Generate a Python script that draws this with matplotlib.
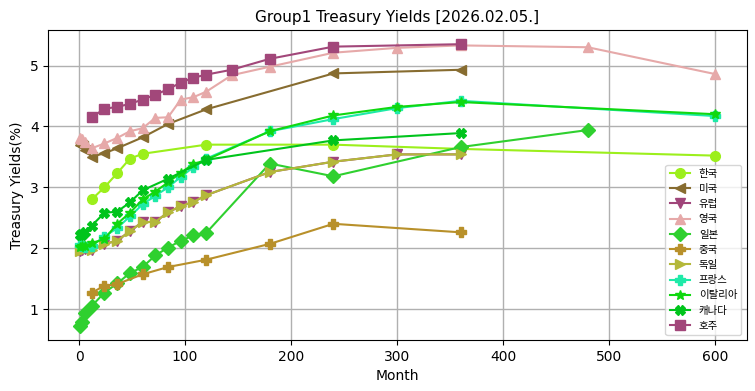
import numpy as np
import matplotlib
matplotlib.use('Agg')
import matplotlib.pyplot as plt

plt.rcParams['font.family'] = ['DejaVu Sans', 'Noto Sans CJK KR']

##############################################################################
#                          yield curves (month, %)
##############################################################################
kr_m = [12, 24, 36, 48, 60, 120, 240, 360, 600]
kr_y = [2.80, 3.00, 3.23, 3.47, 3.55, 3.70, 3.70, 3.63, 3.52]

us_m = [1, 2, 3, 4, 6, 12, 24, 36, 60, 84, 120, 240, 360]
us_y = [3.70, 3.70, 3.69, 3.68, 3.62, 3.50, 3.56, 3.64, 3.82, 4.04, 4.28, 4.87, 4.93]

de_m = [1, 3, 6, 12, 24, 36, 48, 60, 72, 84, 96, 108, 120, 180, 240, 300, 360]
de_y = [1.96, 1.97, 1.98, 1.97, 2.07, 2.12, 2.28, 2.43, 2.43, 2.59, 2.69, 2.76, 2.87,
        3.25, 3.42, 3.54, 3.54]
eu_m = de_m
eu_y = de_y

uk_m = [1, 3, 6, 12, 24, 36, 48, 60, 72, 84, 96, 108, 120, 144, 180, 240, 300, 360,
        480, 600]
uk_y = [3.81, 3.80, 3.74, 3.64, 3.72, 3.81, 3.92, 3.97, 4.14, 4.15, 4.44, 4.48, 4.57,
        4.84, 4.98, 5.21, 5.29, 5.33, 5.30, 4.86]

jp_m = [1, 3, 6, 12, 24, 36, 48, 60, 72, 84, 96, 108, 120, 180, 240, 360, 480]
jp_y = [0.72, 0.79, 0.93, 1.05, 1.27, 1.42, 1.59, 1.69, 1.88, 2.01, 2.12, 2.21, 2.25,
        3.39, 3.18, 3.66, 3.94]

cn_m = [12, 24, 36, 60, 84, 120, 180, 240, 360]
cn_y = [1.27, 1.38, 1.41, 1.57, 1.69, 1.81, 2.07, 2.40, 2.26]

fr_m = [1, 3, 6, 12, 24, 36, 48, 60, 72, 84, 96, 108, 120, 180, 240, 300, 360, 600]
fr_y = [2.05, 2.03, 2.02, 2.04, 2.19, 2.33, 2.52, 2.72, 2.86, 3.00, 3.17, 3.33, 3.47,
        3.92, 4.12, 4.30, 4.42, 4.17]

it_m = [1, 3, 6, 12, 24, 36, 48, 60, 72, 84, 96, 108, 120, 180, 240, 300, 360, 600]
it_y = [2.02, 2.03, 2.04, 2.08, 2.15, 2.40, 2.58, 2.80, 2.93, 3.08, 3.24, 3.38, 3.45,
        3.92, 4.18, 4.32, 4.40, 4.20]

ca_m = [1, 2, 3, 6, 12, 24, 36, 48, 60, 84, 120, 240, 360]
ca_y = [2.22, 2.23, 2.21, 2.26, 2.37, 2.58, 2.60, 2.75, 2.95, 3.14, 3.45, 3.77, 3.89]

au_m = [12, 24, 36, 48, 60, 72, 84, 96, 108, 120, 144, 180, 240, 360]
au_y = [4.15, 4.29, 4.32, 4.37, 4.44, 4.52, 4.61, 4.72, 4.80, 4.85, 4.93, 5.11, 5.31, 5.35]

series = [
    ('한국',     kr_m, kr_y, '#9cef1c', 'o'),
    ('미국',     us_m, us_y, '#876c30', '<'),
    ('유럽',     eu_m, eu_y, '#a0457a', 'v'),
    ('영국',     uk_m, uk_y, '#e6a9a9', '^'),
    ('일본',     jp_m, jp_y, '#2fd02f', 'D'),
    ('중국',     cn_m, cn_y, '#b8902a', 'P'),
    ('독일',     de_m, de_y, '#b4b83a', '>'),
    ('프랑스',   fr_m, fr_y, '#1eeaa8', 'P'),
    ('이탈리아', it_m, it_y, '#10d810', '*'),
    ('캐나다',   ca_m, ca_y, '#00c41c', 'X'),
    ('호주',     au_m, au_y, '#a2477a', 's'),
]

fig = plt.figure(figsize=(7.55, 3.91), dpi=100)
ax = fig.add_axes([0.064, 0.130, 0.925, 0.793])

for name, m, y, c, mk in series:
    ax.plot(m, y, color=c, marker=mk, markersize=7, linewidth=1.5, label=name)

ax.set_title('Group1 Treasury Yields [2026.02.05.]', fontsize=11)
ax.set_xlabel('Month', fontsize=10)
ax.set_ylabel('Treasury Yields(%)', fontsize=10)
ax.grid(True, color='#b0b0b0', linewidth=1)
ax.legend(loc='lower right', fontsize=7.5)

plt.savefig('out.png', dpi=100)
